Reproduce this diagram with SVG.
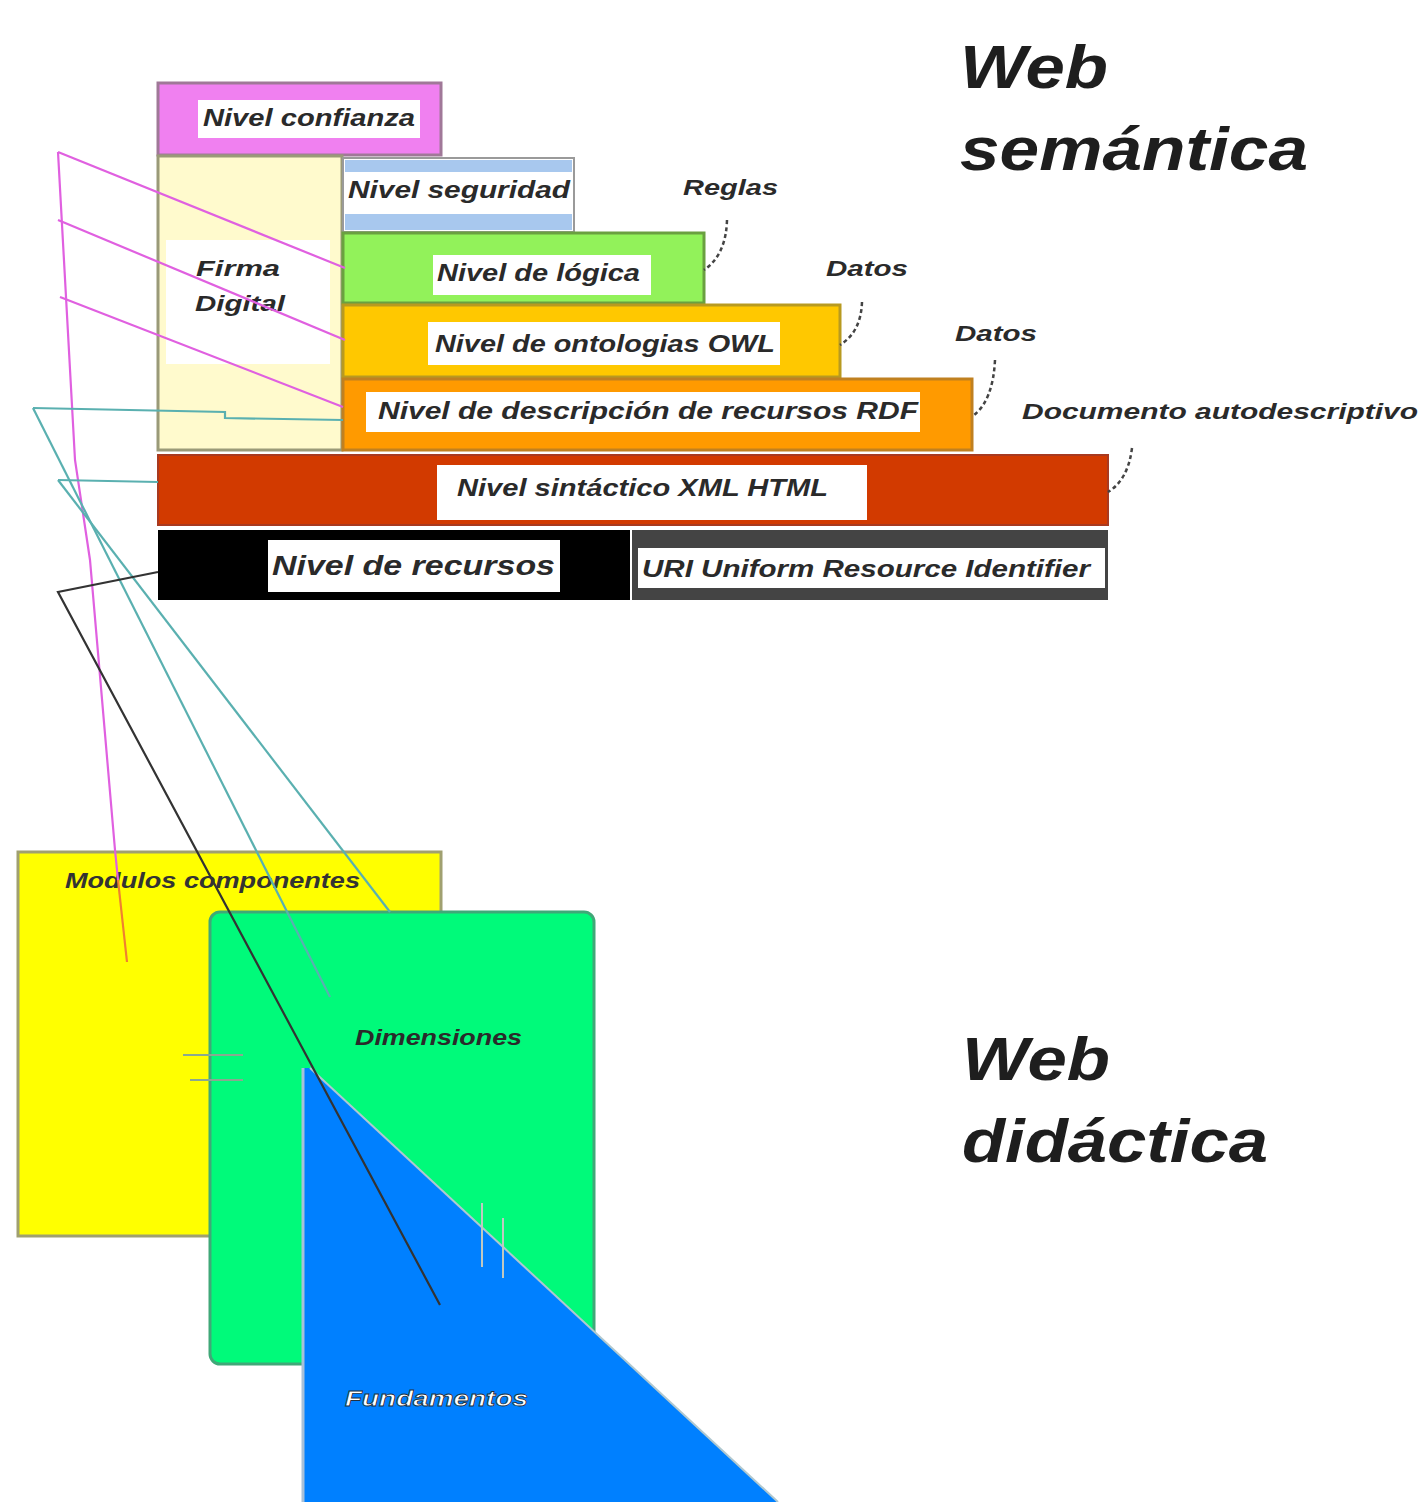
<svg xmlns="http://www.w3.org/2000/svg" width="1421" height="1502" viewBox="0 0 1421 1502">
  <style>
    .lbl { font-family: "Liberation Sans", Arial, sans-serif; font-weight: bold; font-style: italic; fill: #2a2a2a; }
    .inv { fill: #ffffff; stroke: #203040; stroke-width: 0.8; }
    .big { font-family: "Liberation Sans", Arial, sans-serif; font-weight: bold; font-style: italic; fill: #1e1e1e; font-size: 62px; }
    .pad { fill: #ffffff; }
    .edge { stroke: #9a9a78; stroke-width: 3; }
    .dash { fill: none; stroke: #444; stroke-width: 2.5; stroke-dasharray: 4 3; }
    .pink { fill: none; stroke: #e060e0; stroke-width: 2.2; }
    .teal { fill: none; stroke: #5ab0b0; stroke-width: 2.2; }
    .dark { fill: none; stroke: #333; stroke-width: 2.2; }
  </style>
  <rect width="1421" height="1502" fill="#ffffff"/>

  <!-- semantic web layer stack -->
  <g id="nivel-confianza">
    <rect x="158" y="83" width="283" height="72" fill="#f080f0" stroke="#a07898" stroke-width="3"/>
    <rect class="pad" x="198" y="100" width="222" height="38"/>
    <text class="lbl" x="203" y="126" font-size="24" textLength="212" lengthAdjust="spacingAndGlyphs">Nivel confianza</text>
  </g>

  <g id="firma-digital">
    <rect x="158" y="156" width="184" height="294" fill="#fffacd" class="edge"/>
    <rect class="pad" x="166" y="240" width="164" height="124"/>
    <text class="lbl" x="196" y="276" font-size="22" textLength="84" lengthAdjust="spacingAndGlyphs">Firma</text>
    <text class="lbl" x="195" y="311" font-size="22" textLength="90" lengthAdjust="spacingAndGlyphs">Digital</text>
  </g>

  <g id="nivel-seguridad">
    <rect x="343" y="158" width="231" height="74" fill="#ffffff" stroke="#9a9a9a" stroke-width="2"/>
    <rect x="345" y="160" width="227" height="12" fill="#a8c8ee"/>
    <rect x="345" y="214" width="227" height="16" fill="#a8c8ee"/>
    <text class="lbl" x="348" y="198" font-size="24" textLength="222" lengthAdjust="spacingAndGlyphs">Nivel seguridad</text>
  </g>

  <g id="nivel-logica">
    <rect x="343" y="233" width="361" height="70" fill="#92f25a" stroke="#6aa040" stroke-width="3"/>
    <rect class="pad" x="433" y="255" width="218" height="40"/>
    <text class="lbl" x="437" y="281" font-size="24" textLength="203" lengthAdjust="spacingAndGlyphs">Nivel de lógica</text>
  </g>

  <g id="nivel-ontologias">
    <rect x="343" y="305" width="497" height="72" fill="#ffc800" stroke="#b89a20" stroke-width="3"/>
    <rect class="pad" x="428" y="322" width="352" height="43"/>
    <text class="lbl" x="435" y="352" font-size="24" textLength="340" lengthAdjust="spacingAndGlyphs">Nivel de ontologias OWL</text>
  </g>

  <g id="nivel-rdf">
    <rect x="343" y="379" width="629" height="71" fill="#ff9a00" stroke="#c08020" stroke-width="3"/>
    <rect class="pad" x="366" y="392" width="554" height="40"/>
    <text class="lbl" x="378" y="419" font-size="24" textLength="540" lengthAdjust="spacingAndGlyphs">Nivel de descripción de recursos  RDF</text>
  </g>

  <g id="nivel-sintactico">
    <rect x="158" y="455" width="950" height="70" fill="#d23a00" stroke="#a83a20" stroke-width="2"/>
    <rect class="pad" x="437" y="465" width="430" height="55"/>
    <text class="lbl" x="457" y="496" font-size="24" textLength="371" lengthAdjust="spacingAndGlyphs">Nivel sintáctico XML HTML</text>
  </g>

  <g id="nivel-recursos">
    <rect x="158" y="530" width="472" height="70" fill="#000000"/>
    <rect class="pad" x="268" y="540" width="292" height="52"/>
    <text class="lbl" x="272" y="575" font-size="28" textLength="283" lengthAdjust="spacingAndGlyphs">Nivel de recursos</text>
  </g>

  <g id="uri">
    <rect x="632" y="530" width="476" height="70" fill="#444444"/>
    <rect class="pad" x="638" y="548" width="467" height="40"/>
    <text class="lbl" x="642" y="577" font-size="24" textLength="448" lengthAdjust="spacingAndGlyphs">URI Uniform Resource Identifier</text>
  </g>

  <!-- side notes with dashed leaders -->
  <g id="nota-reglas">
    <text class="lbl" x="683" y="195" font-size="22" textLength="95" lengthAdjust="spacingAndGlyphs">Reglas</text>
    <path class="dash" d="M727 220 Q726 255 704 270"/>
  </g>
  <g id="nota-datos-1">
    <text class="lbl" x="826" y="276" font-size="22" textLength="82" lengthAdjust="spacingAndGlyphs">Datos</text>
    <path class="dash" d="M862 302 Q861 332 840 345"/>
  </g>
  <g id="nota-datos-2">
    <text class="lbl" x="955" y="341" font-size="22" textLength="82" lengthAdjust="spacingAndGlyphs">Datos</text>
    <path class="dash" d="M995 360 Q993 400 974 415"/>
  </g>
  <g id="nota-documento">
    <text class="lbl" x="1022" y="419" font-size="22" textLength="396" lengthAdjust="spacingAndGlyphs">Documento autodescriptivo</text>
    <path class="dash" d="M1132 448 Q1128 480 1108 492"/>
  </g>

  <!-- titles -->
  <g id="titulo-semantica">
    <text class="big" x="960" y="88" textLength="148" lengthAdjust="spacingAndGlyphs">Web</text>
    <text class="big" x="960" y="170" textLength="348" lengthAdjust="spacingAndGlyphs">semántica</text>
  </g>
  <g id="titulo-didactica">
    <text class="big" x="962" y="1080" textLength="148" lengthAdjust="spacingAndGlyphs">Web</text>
    <text class="big" x="962" y="1162" textLength="306" lengthAdjust="spacingAndGlyphs">didáctica</text>
  </g>

  <!-- didactic web panels -->
  <g id="modulos">
    <rect x="18" y="852" width="423" height="384" fill="#ffff00" stroke="#a0a070" stroke-width="3"/>
    <text class="lbl" x="65" y="888" font-size="22" textLength="295" lengthAdjust="spacingAndGlyphs" style="fill:#333333">Modulos componentes</text>
  </g>

  <g id="dimensiones">
    <rect x="210" y="912" width="384" height="452" rx="10" fill="#00fa7a" stroke="#40a878" stroke-width="3"/>
    <text class="lbl" x="355" y="1045" font-size="22" textLength="167" lengthAdjust="spacingAndGlyphs">Dimensiones</text>
  </g>

  <g id="fundamentos">
    <polygon points="303,1068 310,1068 778,1502 303,1502" fill="#0080ff"/>
    <line x1="303" y1="1068" x2="303" y2="1502" stroke="#a8c0d8" stroke-width="3"/>
    <line x1="310" y1="1068" x2="778" y2="1502" stroke="#b0c8d0" stroke-width="2"/>
    <text class="lbl inv" x="345" y="1406" font-size="22" textLength="183" lengthAdjust="spacingAndGlyphs">Fundamentos</text>
  </g>

  <!-- connectors between the two webs -->
  <g id="conectores">
    <polyline class="pink" points="58,152 75,460 90,560 115,850 118,880"/>
    <line x1="118" y1="880" x2="127" y2="962" stroke="#f08030" stroke-width="2.2"/>
    <line class="pink" x1="58" y1="152" x2="345" y2="268"/>
    <line class="pink" x1="58" y1="220" x2="345" y2="340"/>
    <line class="pink" x1="60" y1="297" x2="343" y2="407"/>

    <polyline class="teal" points="33,408 225,412 225,418 343,420"/>
    <line class="teal" x1="33" y1="408" x2="330" y2="997"/>
    <line class="teal" x1="58" y1="480" x2="158" y2="482"/>
    <line class="teal" x1="58" y1="480" x2="390" y2="912"/>

    <polyline class="dark" points="158,572 58,592 440,1305"/>

    <line x1="183" y1="1055" x2="243" y2="1055" stroke="#8aa890" stroke-width="2"/>
    <line x1="190" y1="1080" x2="243" y2="1080" stroke="#8aa890" stroke-width="2"/>
    <line x1="482" y1="1203" x2="482" y2="1267" stroke="#c0c8c0" stroke-width="2"/>
    <line x1="503" y1="1218" x2="503" y2="1278" stroke="#c0c8c0" stroke-width="2"/>
  </g>
</svg>
